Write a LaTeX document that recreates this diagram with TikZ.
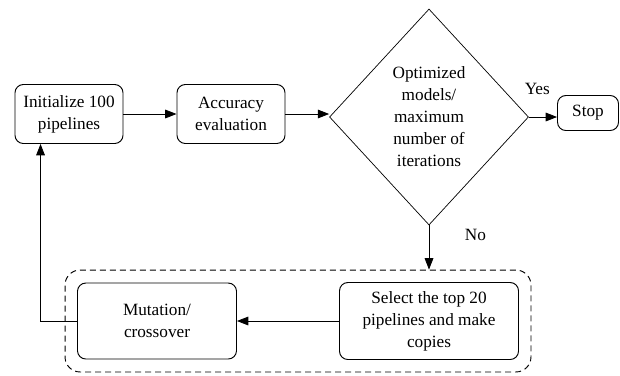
\documentclass[tikz,border=0pt]{standalone}
\usepackage{fontspec}
\setmainfont{Liberation Serif}
\usetikzlibrary{shapes.geometric,positioning,fit,arrows.meta}

\begin{document}
\begin{tikzpicture}[node distance=5cm,on grid,auto,
   font=\fontsize{14.7}{18.8}\selectfont,
   box/.style={draw,rounded corners=0.25cm,align=center,inner sep=0pt,line width=0.8pt},
   test/.style={draw,diamond,align=center,inner sep=0pt,minimum width=5.97cm,minimum height=6.48cm,line width=0.6pt},
   group/.style={draw,dashed,dash pattern=on 1.8mm off 1.2mm,rounded corners=0.45cm,line width=0.8pt},
   >={Triangle[length=3.4mm,width=2.6mm]}]
   \useasboundingbox (-2.07,3.42) rectangle (16.53,-7.83);
   \node[box,minimum width=3.24cm,minimum height=1.77cm] (init) {Initialize 100\\pipelines};
   \node[box,minimum width=3.24cm,minimum height=1.77cm] (acc) [right=4.86cm of init] {Accuracy\\evaluation};
   \node[test] (check) [right=5.94cm of acc,yshift=-0.09cm] {Optimized\\models/\\maximum\\number of\\iterations};
   \node[box,minimum width=1.83cm,minimum height=1.05cm] (stop) [right=4.77cm of check,yshift=0.12cm] {Stop};
   \node[box,minimum width=5.37cm,minimum height=2.31cm] (select) [below=6.12cm of check] {Select the top 20\\pipelines and make\\copies};
   \node[box,minimum width=4.77cm,minimum height=2.28cm] (mutate) [left=8.16cm of select] {Mutation/\\crossover};
   \node[group,fit=(mutate)(select),inner xsep=0.36cm,inner ysep=0.36cm] (loop) {};
   \coordinate (back) at ([xshift=0.78cm]init.south west);
    \path[->,line width=0.7pt]
    (init) edge (acc)
    (acc) edge (check.west |- acc)
    (check.east) edge node[above=0.55cm,pos=0.3] {Yes} (stop.west |- check.east)
    (check.south) edge node[pos=0.22,right=0.95cm] {No} (check.south |- loop.north)
    (select) edge (mutate);
    \draw[->,line width=0.7pt] (mutate.west) -| (back);
\end{tikzpicture}
\end{document}
